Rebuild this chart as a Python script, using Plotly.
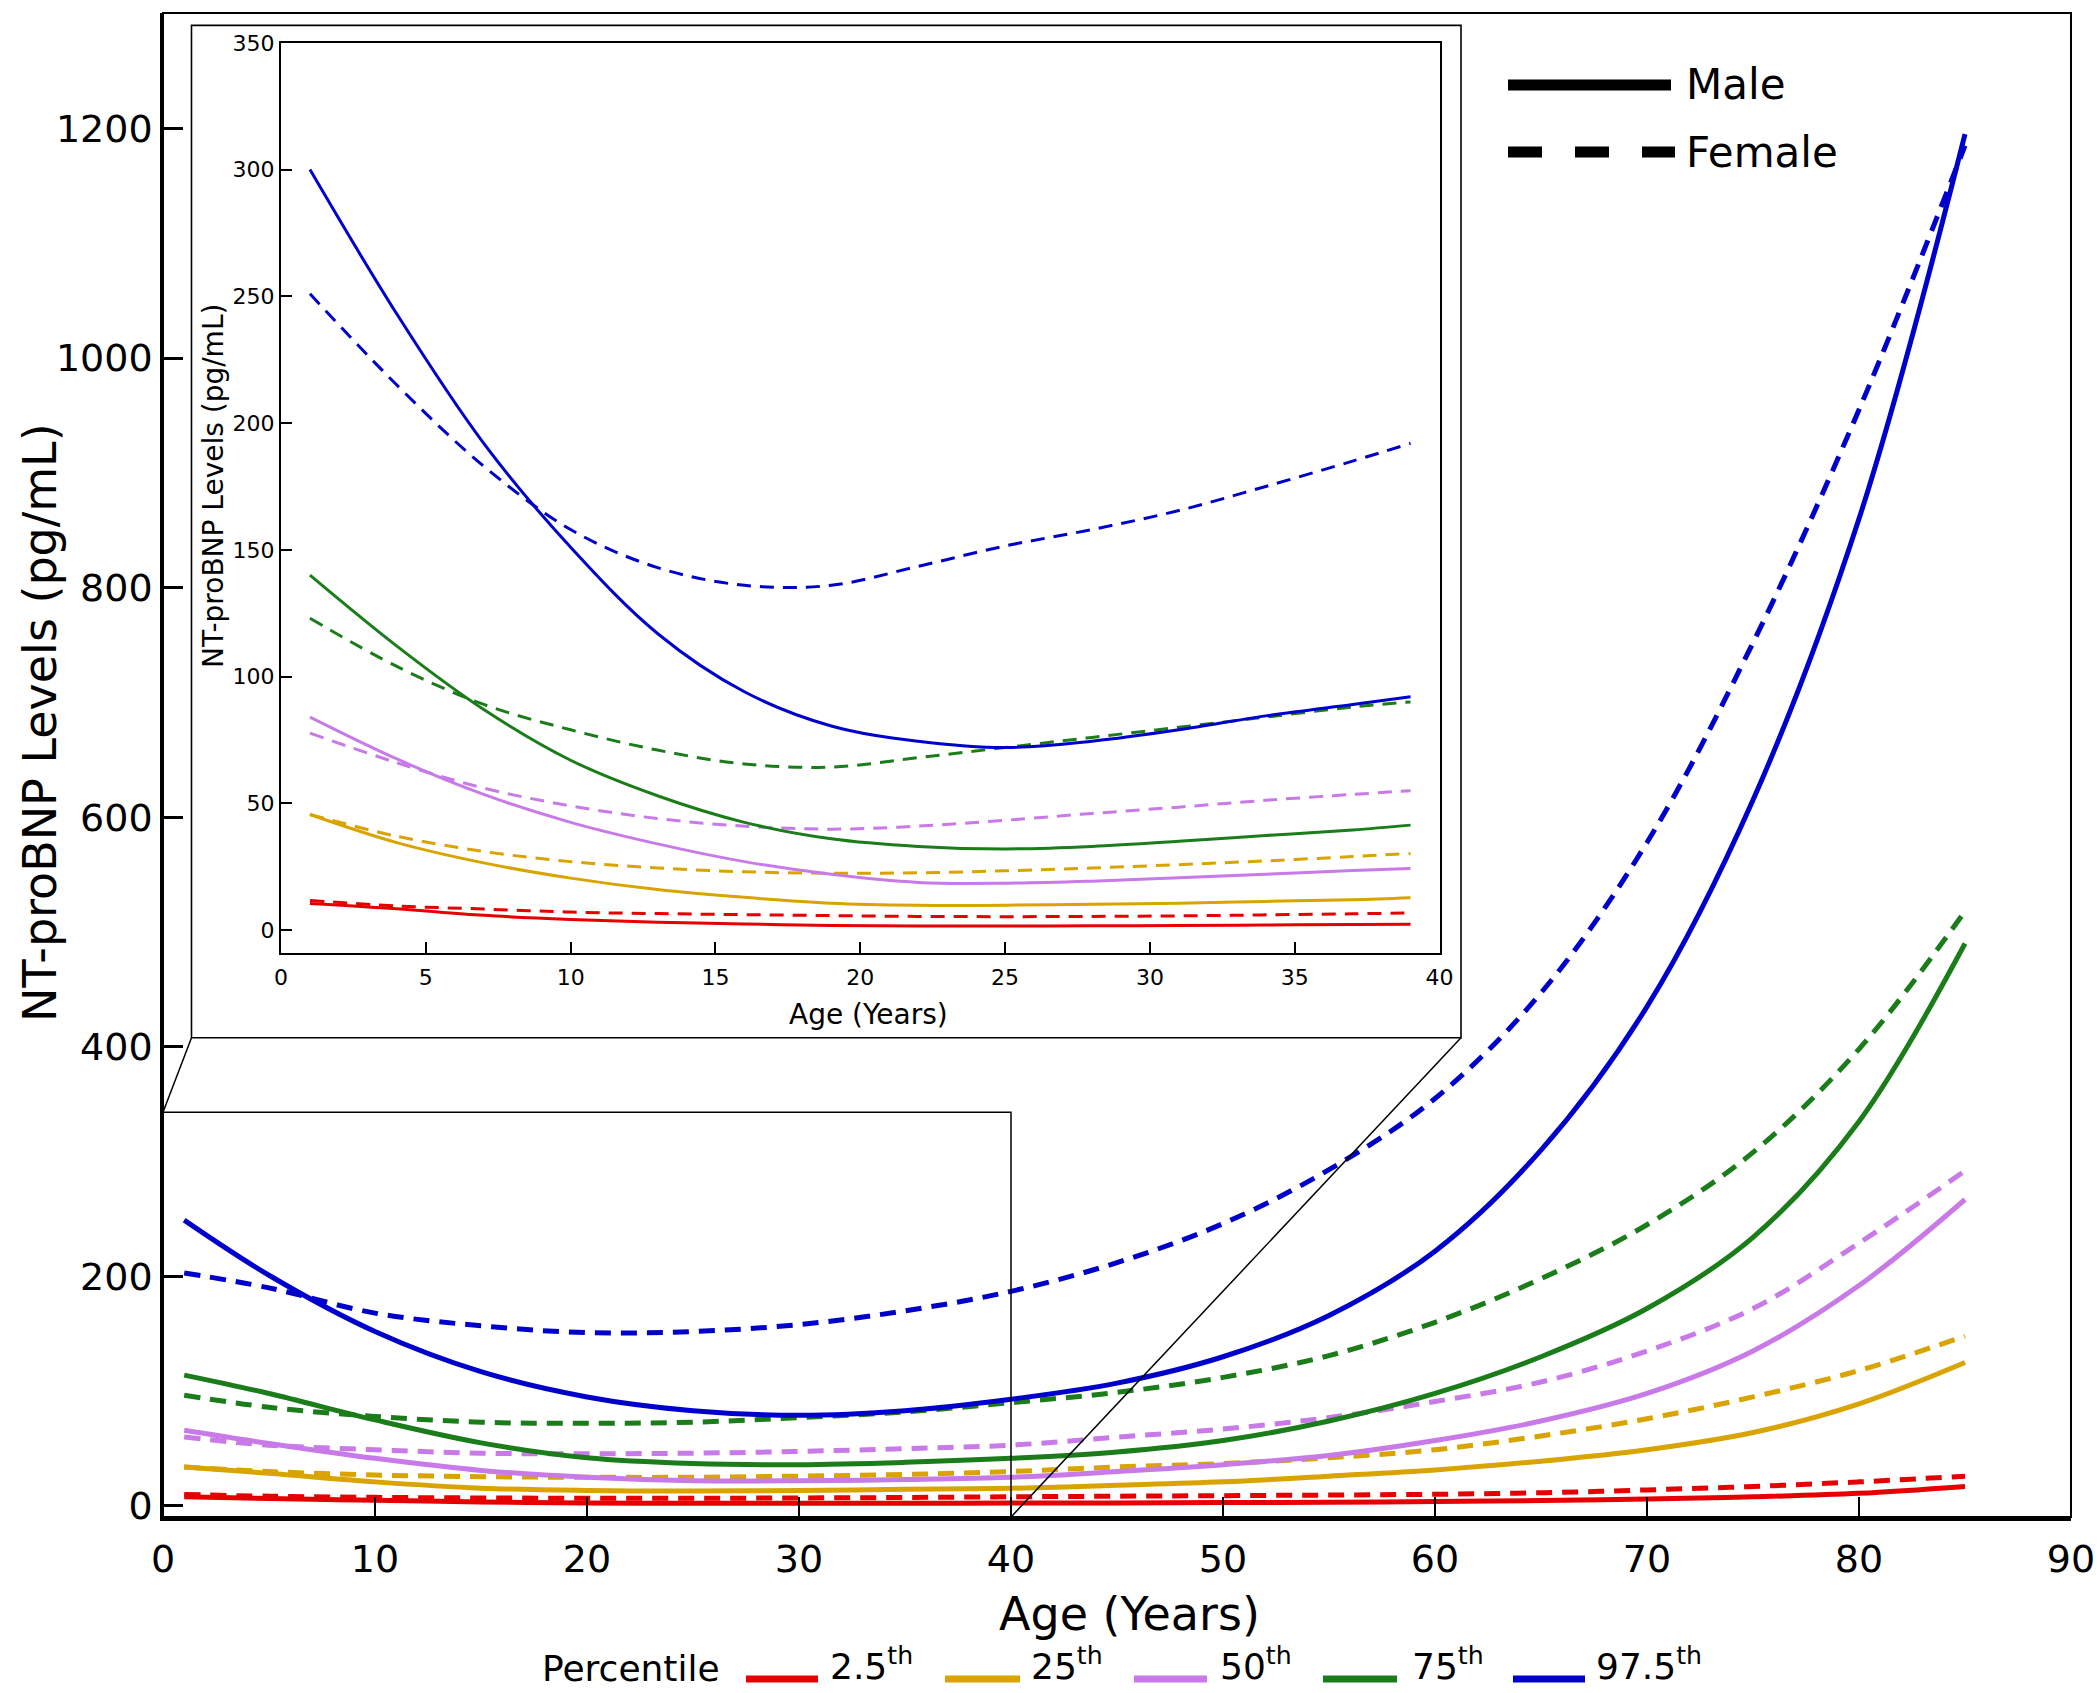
import plotly.graph_objects as go

# ---------------- data ----------------
ages_main = [1, 5, 10, 15, 20, 25, 30, 35, 40, 45, 50, 55, 60, 65, 70, 75, 80, 85]
male_p975 = [249, 201, 152, 117, 95, 83, 79, 83, 93, 107, 130, 166, 222, 310, 435, 615, 860, 1195]
female_p975 = [203, 190, 168, 157, 151, 152, 158, 170, 187, 212, 246, 293, 355, 447, 578, 752, 955, 1185]
male_p75 = [114, 98, 75, 55, 42, 37, 36, 38, 41.5, 47, 57, 74, 98, 130, 172, 234, 335, 490]
female_p75 = [96.5, 86, 78, 73, 72, 73, 77, 82, 90, 99, 112, 131, 160, 198, 245, 308, 398, 518]
male_p50 = [66, 54.5, 41.5, 31, 25, 22, 22, 23, 25, 30, 36, 44, 57, 74, 98, 135, 192, 267]
female_p50 = [60, 53, 49, 46, 45.5, 46, 47.5, 50, 53, 60, 67, 77, 91, 108, 135, 172, 229, 292]
male_p25 = [34, 28.5, 21, 15.5, 13.5, 13, 13.5, 14.5, 15.4, 18, 21, 26, 31.4, 39, 49, 64, 89, 125]
female_p25 = [34, 30, 27, 25.5, 25, 25, 26, 27.5, 30, 34, 37, 42, 49, 61, 76, 95, 118, 148]
male_p025 = [8, 6.5, 5, 3.5, 2.5, 2.3, 2.3, 2.4, 2.5, 2.7, 3, 3.3, 3.8, 4.8, 6, 8, 11, 17]
female_p025 = [10, 8.5, 7.5, 7, 6.7, 6.7, 7, 7.4, 8, 8.5, 9, 9.5, 10.2, 11.5, 14, 17, 21, 26]

ages_inset = [1, 4, 7, 10, 13, 16, 19, 22, 25, 28, 31, 34, 37, 39]
inset_male_p975 = [300, 243, 192, 151, 117, 94, 80.5, 74.5, 72, 74.5, 79, 84.5, 89, 92]
inset_female_p975 = [251, 215, 183, 158, 143, 136, 136, 143.5, 151.5, 158, 165.5, 175, 185, 192]
inset_male_p75 = [140, 112, 87, 67, 53, 42.5, 36, 33, 32, 33, 35, 37.3, 39.5, 41.4]
inset_female_p75 = [123, 104, 89, 79, 71, 65.5, 64.3, 68, 72, 76, 80, 84, 88, 90]
inset_male_p50 = [84, 67.5, 53.5, 42.5, 34, 27, 22, 18.8, 18.5, 19.3, 20.6, 22, 23.5, 24.3]
inset_female_p50 = [77.7, 66, 56, 49, 44, 41, 39.8, 41, 43.3, 46, 48.5, 51.2, 53.5, 55]
inset_male_p25 = [45.6, 34.5, 26.5, 20.5, 16, 12.9, 10.6, 9.8, 9.8, 10.2, 10.6, 11.3, 12, 12.8]
inset_female_p25 = [45.6, 37, 31, 27, 24.5, 23, 22.4, 22.6, 23.4, 24.5, 25.8, 27.3, 29, 30.2]
inset_male_p025 = [10.5, 8.4, 5.8, 4.2, 3.1, 2.4, 1.8, 1.6, 1.6, 1.7, 1.8, 2, 2.2, 2.3]
inset_female_p025 = [11.7, 9.5, 8.3, 7.1, 6.5, 6.1, 5.7, 5.4, 5.3, 5.4, 5.6, 6.0, 6.4, 6.8]

percentile_labels = ["2.5", "25", "50", "75", "97.5"]
percentile_colors = ["#e60000", "#d9a300", "#c87ae8", "#1a7d1a", "#0000cc"]
main_x_ticks = [0, 10, 20, 30, 40, 50, 60, 70, 80, 90]
main_y_ticks = [0, 200, 400, 600, 800, 1000, 1200]
inset_x_ticks = [0, 5, 10, 15, 20, 25, 30, 35, 40]
inset_y_ticks = [0, 50, 100, 150, 200, 250, 300, 350]

main_male = [male_p025, male_p25, male_p50, male_p75, male_p975]
main_female = [female_p025, female_p25, female_p50, female_p75, female_p975]
inset_male = [inset_male_p025, inset_male_p25, inset_male_p50, inset_male_p75, inset_male_p975]
inset_female = [inset_female_p025, inset_female_p25, inset_female_p50, inset_female_p75, inset_female_p975]

# ---------------- layout geometry (pixels) ----------------
W, H = 2100, 1693
PL, PR, PT, PB = 163, 2071, 13, 1517
FONT = "DejaVu Sans"


def px(xp):
    return (xp - PL) / (PR - PL)


def py(yp):
    return (PB - yp) / (PB - PT)


MAIN_X = [0, 90]
MAIN_Y = [-9.6, 1300.6]
INSET_X = [0, 40]
INSET_Y = [-9.2, 350]

fig = go.Figure()

# main curves
for i, col in enumerate(percentile_colors):
    fig.add_trace(go.Scatter(x=ages_main, y=main_male[i], mode="lines",
                             line=dict(color=col, width=5, shape="spline"),
                             showlegend=False, xaxis="x", yaxis="y"))
    fig.add_trace(go.Scatter(x=ages_main, y=main_female[i], mode="lines",
                             line=dict(color=col, width=5, dash="16px,10px", shape="spline"),
                             showlegend=False, xaxis="x", yaxis="y"))

# inset curves
for i, col in enumerate(percentile_colors):
    fig.add_trace(go.Scatter(x=ages_inset, y=inset_male[i], mode="lines",
                             line=dict(color=col, width=3, shape="spline"),
                             showlegend=False, xaxis="x2", yaxis="y2"))
    fig.add_trace(go.Scatter(x=ages_inset, y=inset_female[i], mode="lines",
                             line=dict(color=col, width=3, dash="14px,9px", shape="spline"),
                             showlegend=False, xaxis="x2", yaxis="y2"))

axis_font = dict(family=FONT, size=38, color="black")
inset_font = dict(family=FONT, size=22, color="black")

fig.update_layout(
    width=W, height=H,
    margin=dict(l=PL, r=W - PR, t=PT, b=H - PB, autoexpand=False),
    paper_bgcolor="white", plot_bgcolor="white",
    font=dict(family=FONT, color="black"),
    xaxis=dict(domain=[0, 1], range=MAIN_X, tickvals=main_x_ticks, ticks="inside",
               ticklen=20, tickwidth=2, tickcolor="black", showline=True, linewidth=3.5,
               linecolor="black", showgrid=False, zeroline=False, tickfont=axis_font,
               ticklabelstandoff=6, automargin=False),
    yaxis=dict(domain=[0, 1], range=MAIN_Y, tickvals=main_y_ticks, ticks="inside",
               ticklen=20, tickwidth=2.5, tickcolor="black", showline=True, linewidth=2.5,
               linecolor="black", showgrid=False, zeroline=False, tickfont=axis_font,
               automargin=False),
    xaxis2=dict(domain=[px(281), px(1439.5)], anchor="y2", range=INSET_X,
                tickvals=inset_x_ticks, ticks="inside", ticklen=11, tickwidth=1.5,
                tickcolor="black", showline=True, linewidth=2, mirror=True,
                linecolor="black", showgrid=False, zeroline=False, tickfont=inset_font,
                ticklabelstandoff=3, automargin=False),
    yaxis2=dict(domain=[py(953.4), py(42.8)], anchor="x2", range=INSET_Y,
                tickvals=inset_y_ticks, ticks="inside", ticklen=11, tickwidth=1.5,
                tickcolor="black", showline=True, linewidth=2, mirror=True,
                linecolor="black", showgrid=False, zeroline=False, tickfont=inset_font,
                automargin=False),
)

shapes = []
# outer frame of the main plot (top / right)
shapes.append(dict(type="rect", xref="paper", yref="paper", x0=0, x1=1, y0=0, y1=1,
                   line=dict(color="black", width=2), layer="above"))
# inset outer box
bx0, bx1, by0, by1 = px(191.5), px(1461), py(1037.7), py(25.4)
shapes.append(dict(type="rect", xref="paper", yref="paper", x0=bx0, x1=bx1, y0=by0, y1=by1,
                   line=dict(color="black", width=1.6), fillcolor="white", layer="below"))
# zoom rectangle on main axes
zoom_top = 343
shapes.append(dict(type="rect", xref="x", yref="y", x0=0, x1=40, y0=MAIN_Y[0], y1=zoom_top,
                   line=dict(color="black", width=1.5), layer="above"))


def data_to_paper(xv, yv):
    return ((xv - MAIN_X[0]) / (MAIN_X[1] - MAIN_X[0]),
            (yv - MAIN_Y[0]) / (MAIN_Y[1] - MAIN_Y[0]))


c1 = data_to_paper(0, zoom_top)
c2 = data_to_paper(40, MAIN_Y[0])
shapes.append(dict(type="line", xref="paper", yref="paper", x0=c1[0], y0=c1[1], x1=bx0, y1=by0,
                   line=dict(color="black", width=1.5), layer="above"))
shapes.append(dict(type="line", xref="paper", yref="paper", x0=c2[0], y0=c2[1], x1=bx1, y1=by0,
                   line=dict(color="black", width=1.5), layer="above"))

# Male / Female key
shapes.append(dict(type="line", xref="paper", yref="paper", x0=px(1508), x1=px(1671),
                   y0=py(85), y1=py(85), line=dict(color="black", width=11)))
shapes.append(dict(type="line", xref="paper", yref="paper", x0=px(1508), x1=px(1675),
                   y0=py(152), y1=py(152), line=dict(color="black", width=11, dash="34px,33px")))

# percentile key swatches
sw = [(746, 818), (945, 1020), (1134, 1207), (1323, 1397), (1513, 1585)]
for (a, b), col in zip(sw, percentile_colors):
    shapes.append(dict(type="line", xref="paper", yref="paper", x0=px(a), x1=px(b),
                       y0=py(1679), y1=py(1679), line=dict(color=col, width=7)))

annotations = []
# main axis titles
annotations.append(dict(text="Age (Years)", xref="paper", yref="paper", x=px(1129), y=py(1614),
                        showarrow=False, font=dict(family=FONT, size=46, color="black"),
                        xanchor="center", yanchor="middle"))
annotations.append(dict(text="NT-proBNP Levels (pg/mL)", xref="paper", yref="paper",
                        x=px(40), y=py(723), textangle=-90, showarrow=False,
                        font=dict(family=FONT, size=46, color="black"),
                        xanchor="center", yanchor="middle"))
# inset titles
annotations.append(dict(text="Age (Years)", xref="paper", yref="paper", x=px(868), y=py(1014),
                        showarrow=False, font=dict(family=FONT, size=28, color="black"),
                        xanchor="center", yanchor="middle"))
annotations.append(dict(text="NT-proBNP Levels (pg/mL)", xref="paper", yref="paper",
                        x=px(214), y=py(486), textangle=-90, showarrow=False,
                        font=dict(family=FONT, size=28, color="black"),
                        xanchor="center", yanchor="middle"))
# male / female labels
annotations.append(dict(text="Male", xref="paper", yref="paper", x=px(1684), y=py(84),
                        showarrow=False, font=dict(family=FONT, size=42, color="black"),
                        xanchor="left", yanchor="middle"))
annotations.append(dict(text="Female", xref="paper", yref="paper", x=px(1684), y=py(152),
                        showarrow=False, font=dict(family=FONT, size=42, color="black"),
                        xanchor="left", yanchor="middle"))
# percentile key
annotations.append(dict(text="Percentile", xref="paper", yref="paper", x=px(540), y=py(1669),
                        showarrow=False, font=dict(family=FONT, size=36, color="black"),
                        xanchor="left", yanchor="middle"))
lab_x = [828, 1029, 1218, 1410, 1594]
for lx, lab in zip(lab_x, percentile_labels):
    annotations.append(dict(text=f"{lab}<sup>th</sup>", xref="paper", yref="paper",
                            x=px(lx), y=py(1664), showarrow=False,
                            font=dict(family=FONT, size=36, color="black"),
                            xanchor="left", yanchor="middle"))

fig.update_layout(shapes=shapes, annotations=annotations)

fig.write_html("out.html", config={"displayModeBar": False},
               post_script="document.body.style.margin='0';document.body.style.padding='0';"
                           "document.body.style.overflow='hidden';")
